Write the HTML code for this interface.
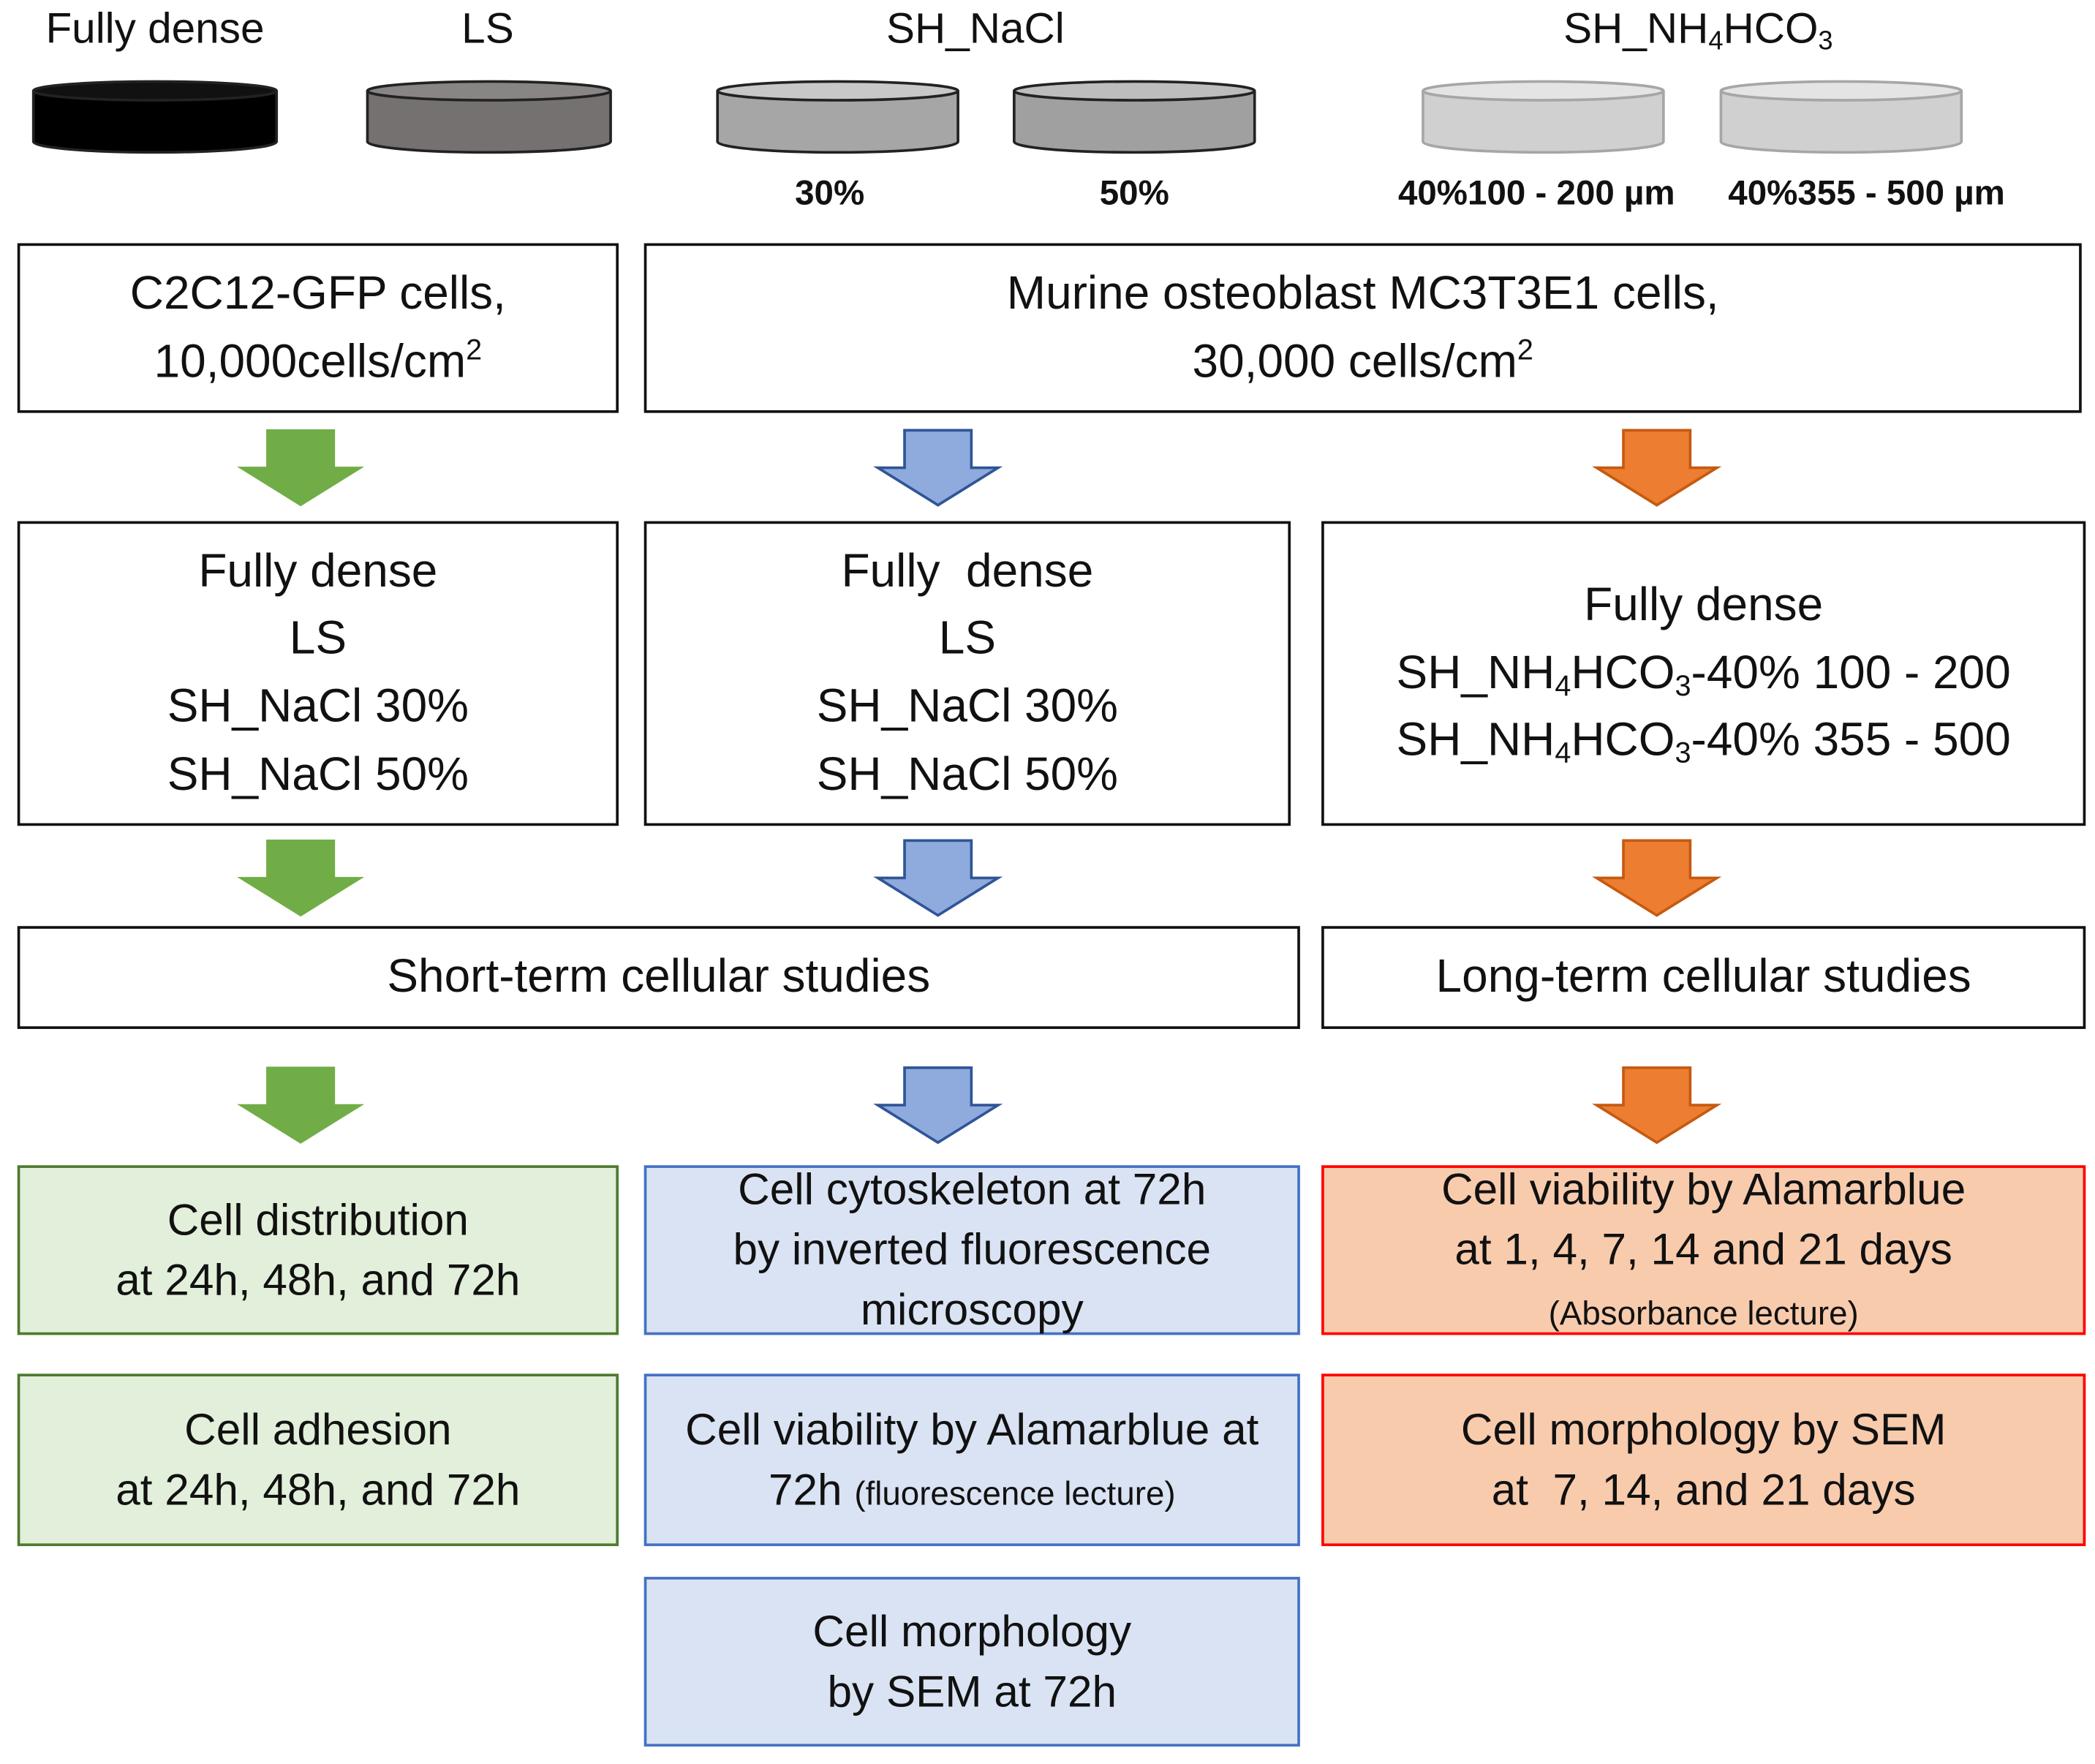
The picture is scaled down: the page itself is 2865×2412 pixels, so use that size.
<!DOCTYPE html>
<html><head><meta charset="utf-8">
<style>
html,body{margin:0;padding:0;background:#fff;}
body{width:2865px;height:2406px;overflow:hidden;position:relative;}
#c{position:absolute;left:0;top:0;width:1568px;height:1320px;transform:scale(1.8272);transform-origin:0 0;font-family:"Liberation Sans",sans-serif;color:#111;}
.b{position:absolute;box-sizing:border-box;border:2.5px solid #111;display:flex;justify-content:center;align-items:center;text-align:center;font-size:35px;line-height:1.45;}
.b>div{width:100%;}
.g{background:#e2efda;border-color:#4e7a2e;font-size:33px;line-height:1.36;}
.bl{background:#dae3f3;border-color:#4472c4;font-size:33px;line-height:1.36;}
.o{background:#f8cbad;border-color:#ff0000;font-size:33px;line-height:1.36;}
.t{position:absolute;font-size:32px;transform:translateX(-50%);white-space:nowrap;}
.s{position:absolute;font-size:26px;font-weight:bold;transform:translateX(-50%);white-space:nowrap;}
sub,sup{font-size:0.62em;line-height:0;}
sub{vertical-align:-0.25em;} sup{vertical-align:0.6em;}
svg{position:absolute;left:0;top:0;}
</style></head><body><div id="c">
<svg width="1568" height="1320">
<defs>
<g id="ar"><polygon points="-25,0 25,0 25,28 45,28 0,56 -45,28 -25,28" /></g>
</defs>
<g stroke="#222" stroke-width="2">
<path d="M25,68 v38 a91,8 0 0 0 182,0 v-38" fill="#000"/><ellipse cx="116" cy="68" rx="91" ry="7" fill="#111"/>
<path d="M275,68 v38 a91,8 0 0 0 182,0 v-38" fill="#767171"/><ellipse cx="366" cy="68" rx="91" ry="7" fill="#8a8585"/>
<path d="M537,68 v38 a90,8 0 0 0 180,0 v-38" fill="#a6a6a6"/><ellipse cx="627" cy="68" rx="90" ry="7" fill="#c8c8c8"/>
<path d="M759,68 v38 a90,8 0 0 0 180,0 v-38" fill="#a0a0a0"/><ellipse cx="849" cy="68" rx="90" ry="7" fill="#bdbdbd"/>
</g>
<g stroke="#a6a6a6" stroke-width="2">
<path d="M1065,68 v38 a90,8 0 0 0 180,0 v-38" fill="#d0d0d0"/><ellipse cx="1155" cy="68" rx="90" ry="7" fill="#e4e4e4"/>
<path d="M1288,68 v38 a90,8 0 0 0 180,0 v-38" fill="#d0d0d0"/><ellipse cx="1378" cy="68" rx="90" ry="7" fill="#e4e4e4"/>
</g>
<g fill="#70ad47" stroke="#70ad47" stroke-width="1.5">
<use href="#ar" transform="translate(225,322)"/><use href="#ar" transform="translate(225,629)"/><use href="#ar" transform="translate(225,799)"/>
</g>
<g fill="#8faadc" stroke="#2f5597" stroke-width="2">
<use href="#ar" transform="translate(702,322)"/><use href="#ar" transform="translate(702,629)"/><use href="#ar" transform="translate(702,799)"/>
</g>
<g fill="#ed7d31" stroke="#c55a11" stroke-width="2">
<use href="#ar" transform="translate(1240,322)"/><use href="#ar" transform="translate(1240,629)"/><use href="#ar" transform="translate(1240,799)"/>
</g>
</svg>

<div class="t" style="left:116px;top:3px">Fully dense</div>
<div class="t" style="left:365px;top:3px">LS</div>
<div class="t" style="left:730px;top:3px">SH_NaCl</div>
<div class="t" style="left:1271px;top:3px">SH_NH<sub>4</sub>HCO<sub>3</sub></div>
<div class="s" style="left:621px;top:129px">30%</div>
<div class="s" style="left:849px;top:129px">50%</div>
<div class="s" style="left:1150px;top:129px">40%100 - 200 µm</div>
<div class="s" style="left:1397px;top:129px">40%355 - 500 µm</div>

<div class="b" style="left:13px;top:182px;width:450px;height:127px"><div>C2C12-GFP cells,<br>10,000cells/cm<sup>2</sup></div></div>
<div class="b" style="left:482px;top:182px;width:1076px;height:127px"><div>Murine osteoblast MC3T3E1 cells,<br>30,000 cells/cm<sup>2</sup></div></div>

<div class="b" style="left:13px;top:390px;width:450px;height:228px"><div>Fully dense<br>LS<br>SH_NaCl 30%<br>SH_NaCl 50%</div></div>
<div class="b" style="left:482px;top:390px;width:484px;height:228px"><div>Fully&nbsp; dense<br>LS<br>SH_NaCl 30%<br>SH_NaCl 50%</div></div>
<div class="b" style="left:989px;top:390px;width:572px;height:228px"><div>Fully dense<br>SH_NH<sub>4</sub>HCO<sub>3</sub>-40% 100 - 200<br>SH_NH<sub>4</sub>HCO<sub>3</sub>-40% 355 - 500</div></div>

<div class="b" style="left:13px;top:693px;width:960px;height:77px"><div>Short-term cellular studies</div></div>
<div class="b" style="left:989px;top:693px;width:572px;height:77px"><div>Long-term cellular studies</div></div>

<div class="b g" style="left:13px;top:872px;width:450px;height:127px"><div>Cell distribution<br>at 24h, 48h, and 72h</div></div>
<div class="b bl" style="left:482px;top:872px;width:491px;height:127px"><div>Cell cytoskeleton at 72h<br>by inverted fluorescence<br>microscopy</div></div>
<div class="b o" style="left:989px;top:872px;width:572px;height:127px"><div>Cell viability by Alamarblue<br>at 1, 4, 7, 14 and 21 days<br><span style="font-size:25px;line-height:1.2">(Absorbance lecture)</span></div></div>

<div class="b g" style="left:13px;top:1028px;width:450px;height:129px"><div>Cell adhesion<br>at 24h, 48h, and 72h</div></div>
<div class="b bl" style="left:482px;top:1028px;width:491px;height:129px"><div>Cell viability by Alamarblue at<br>72h <span style="font-size:25px">(fluorescence lecture)</span></div></div>
<div class="b o" style="left:989px;top:1028px;width:572px;height:129px"><div>Cell morphology by SEM<br>at&nbsp; 7, 14, and 21 days</div></div>

<div class="b bl" style="left:482px;top:1180px;width:491px;height:127px"><div>Cell morphology<br>by SEM at 72h</div></div>
</div></body></html>
